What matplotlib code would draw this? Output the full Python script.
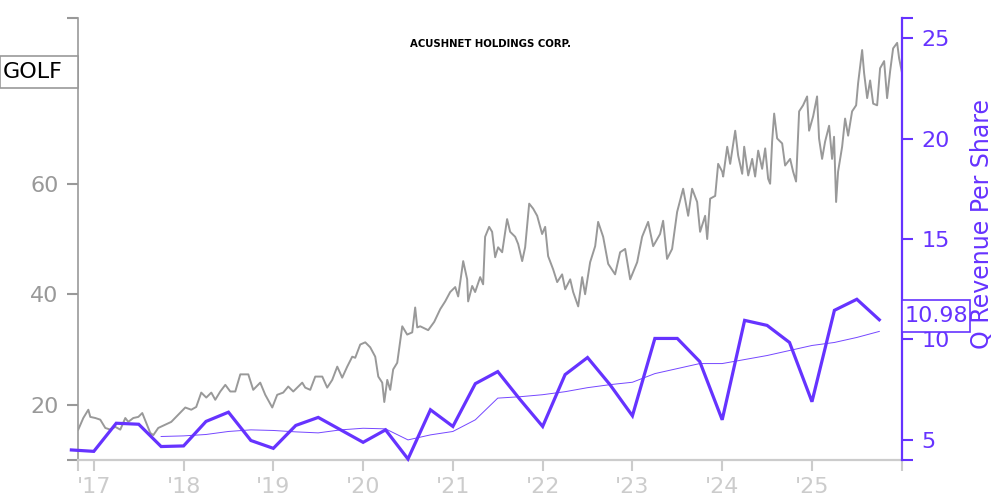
import matplotlib
matplotlib.use("Agg")
import matplotlib.pyplot as plt
from matplotlib.patches import Rectangle

# daily-ish close price of GOLF (decimal year, price)
price_t = [2016.827, 2016.883, 2016.939, 2016.961, 2017.017, 2017.072, 2017.128, 2017.184, 2017.239, 2017.295,
           2017.351, 2017.384, 2017.440, 2017.496, 2017.540, 2017.585, 2017.629, 2017.663, 2017.718, 2017.796,
           2017.863, 2017.941, 2018.019, 2018.086, 2018.141, 2018.197, 2018.253, 2018.309, 2018.353, 2018.409,
           2018.465, 2018.520, 2018.576, 2018.632, 2018.721, 2018.776, 2018.854, 2018.910, 2018.988, 2019.043,
           2019.110, 2019.166, 2019.222, 2019.322, 2019.355, 2019.411, 2019.467, 2019.545, 2019.600, 2019.656,
           2019.712, 2019.767, 2019.823, 2019.879, 2019.912, 2019.968, 2020.024, 2020.079, 2020.135, 2020.169,
           2020.213, 2020.236, 2020.269, 2020.302, 2020.335, 2020.380, 2020.436, 2020.491, 2020.547, 2020.580,
           2020.603, 2020.636, 2020.725, 2020.792, 2020.859, 2020.914, 2020.970, 2021.026, 2021.059, 2021.115,
           2021.159, 2021.170, 2021.215, 2021.248, 2021.304, 2021.337, 2021.359, 2021.404, 2021.437, 2021.471,
           2021.504, 2021.549, 2021.604, 2021.638, 2021.694, 2021.727, 2021.772, 2021.805, 2021.850, 2021.894,
           2021.939, 2021.994, 2022.028, 2022.061, 2022.117, 2022.162, 2022.217, 2022.251, 2022.307, 2022.340,
           2022.396, 2022.440, 2022.473, 2022.529, 2022.585, 2022.618, 2022.674, 2022.730, 2022.807, 2022.863,
           2022.919, 2022.975, 2023.053, 2023.108, 2023.175, 2023.231, 2023.308, 2023.342, 2023.386, 2023.442,
           2023.498, 2023.565, 2023.621, 2023.665, 2023.721, 2023.754, 2023.810, 2023.833, 2023.866, 2023.922,
           2023.955, 2024.000, 2024.011, 2024.056, 2024.089, 2024.145, 2024.178, 2024.223, 2024.245, 2024.290,
           2024.334, 2024.367, 2024.401, 2024.445, 2024.479, 2024.512, 2024.534, 2024.556, 2024.579, 2024.612,
           2024.668, 2024.701, 2024.757, 2024.790, 2024.823, 2024.857, 2024.901, 2024.946, 2024.968, 2025.013,
           2025.057, 2025.079, 2025.113, 2025.146, 2025.191, 2025.224, 2025.246, 2025.269, 2025.291, 2025.336,
           2025.369, 2025.403, 2025.447, 2025.492, 2025.514, 2025.559, 2025.581, 2025.615, 2025.648, 2025.682,
           2025.726, 2025.759, 2025.804, 2025.837, 2025.871, 2025.904, 2025.949, 2025.971, 2026.004]
price = [15.5, 17.6, 19.1, 17.8, 17.6, 17.3, 15.8, 15.5, 16.0, 15.5,
         17.6, 16.9, 17.6, 17.8, 18.5, 16.7, 14.9, 14.5, 15.8, 16.4,
         16.9, 18.2, 19.5, 19.1, 19.6, 22.2, 21.3, 22.2, 20.9, 22.4,
         23.6, 22.4, 22.4, 25.5, 25.5, 22.7, 24.0, 21.8, 19.5, 21.8,
         22.2, 23.3, 22.4, 24.0, 23.1, 22.7, 25.1, 25.1, 23.1, 24.5,
         26.9, 24.9, 26.9, 28.7, 28.5, 30.9, 31.3, 30.4, 28.7, 25.1,
         24.0, 20.5, 24.5, 22.7, 26.4, 27.6, 34.2, 32.7, 33.1, 37.6,
         34.0, 34.2, 33.5, 35.0, 37.3, 38.7, 40.4, 41.3, 39.6, 46.0,
         42.7, 38.7, 41.5, 40.4, 43.1, 41.8, 50.4, 52.2, 51.3, 46.7,
         48.5, 47.6, 53.6, 51.3, 50.4, 49.1, 46.0, 48.5, 56.4, 55.5,
         54.2, 50.9, 52.2, 46.9, 44.5, 42.2, 43.6, 40.9, 42.7, 40.4,
         37.8, 43.1, 40.0, 45.8, 48.7, 53.1, 50.4, 45.5, 43.6, 47.6,
         48.2, 42.7, 45.8, 50.4, 53.1, 48.7, 50.9, 53.3, 46.4, 48.2,
         54.9, 59.1, 54.2, 59.1, 56.7, 51.3, 54.2, 50.0, 57.3, 57.8,
         63.6, 62.2, 61.3, 66.7, 63.6, 69.6, 65.1, 61.8, 66.7, 61.5,
         64.5, 61.3, 66.0, 62.7, 66.4, 60.9, 60.0, 67.6, 72.7, 68.2,
         67.3, 63.3, 64.5, 62.2, 60.4, 73.1, 74.2, 75.8, 69.6, 72.2,
         75.8, 68.2, 64.5, 67.6, 70.5, 64.5, 68.5, 56.7, 62.2, 66.7,
         71.8, 68.7, 73.1, 74.2, 78.2, 84.2, 80.0, 75.5, 78.7, 74.5,
         74.2, 80.9, 82.2, 75.5, 80.4, 84.5, 85.5, 82.7, 80.0]

# quarterly revenue per share (quarter end, value)
q_t = [2016.75, 2017.0, 2017.25, 2017.5, 2017.75, 2018.0, 2018.25, 2018.5, 2018.75, 2019.0,
       2019.25, 2019.5, 2019.75, 2020.0, 2020.25, 2020.5, 2020.75, 2021.0, 2021.25, 2021.5,
       2021.75, 2022.0, 2022.25, 2022.5, 2022.75, 2023.0, 2023.25, 2023.5, 2023.75, 2024.0,
       2024.25, 2024.5, 2024.75, 2025.0, 2025.25, 2025.5, 2025.75]
q_rev = [4.50, 4.43, 5.83, 5.78, 4.67, 4.70, 5.92, 6.38, 4.97, 4.58,
         5.72, 6.12, 5.50, 4.88, 5.50, 4.05, 6.50, 5.67, 7.80, 8.40,
         7.00, 5.67, 8.25, 9.10, 7.75, 6.20, 10.05, 10.05, 8.90, 6.00,
         10.95, 10.70, 9.85, 6.90, 11.45, 12.00, 10.98]
# trailing 4-quarter average
avg_t = q_t[4:]
avg_rev = [5.17, 5.20, 5.27, 5.42, 5.50, 5.47, 5.40, 5.35, 5.50, 5.58,
           5.55, 5.00, 5.25, 5.42, 6.00, 7.08, 7.15, 7.25, 7.40, 7.60,
           7.75, 7.87, 8.30, 8.55, 8.80, 8.80, 9.00, 9.20, 9.45, 9.70,
           9.85, 10.10, 10.40]

year_ticks = [2017, 2018, 2019, 2020, 2021, 2022, 2023, 2024, 2025]
year_labels = ["'17", "'18", "'19", "'20", "'21", "'22", "'23", "'24", "'25"]

purple = '#6633ff'
gray = '#999999'
light = '#cccccc'
xmin, xmax = 2016.824, 2026.003

fig = plt.figure(figsize=(10, 5), dpi=100)
ax = fig.add_axes([0.078, 0.08, 0.824, 0.884])
ax2 = ax.twinx()

ax.plot(price_t, price, color=gray, lw=1.4)
ax.set_xlim(xmin, xmax)
ax.set_ylim(10, 90)

ax2.plot(avg_t, avg_rev, color=purple, lw=0.7, alpha=0.9)
ax2.plot(q_t, q_rev, color=purple, lw=2.3, clip_on=False, solid_joinstyle='miter')
ax2.set_ylim(4, 26)

# spines
for s in ['top', 'right']:
    ax.spines[s].set_visible(False)
ax.spines['left'].set_color(gray)
ax.spines['left'].set_linewidth(1.2)
ax.spines['bottom'].set_color(light)
ax.spines['bottom'].set_linewidth(1.6)
for s in ['top', 'left', 'bottom']:
    ax2.spines[s].set_visible(False)
ax2.spines['right'].set_color(purple)
ax2.spines['right'].set_linewidth(1.6)

ax.set_xticks([xmin] + year_ticks + [xmax])
ax.set_xticklabels([''] + year_labels + [''])
ax.tick_params(axis='x', length=8, width=1.5, color=light, labelcolor=light, labelsize=16, pad=4)

ax.set_yticks([10, 20, 40, 60, 90])
ax.set_yticklabels(['', '20', '40', '60', ''])
ax.tick_params(axis='y', length=8, width=1.5, color=gray, labelcolor=gray, labelsize=16, pad=6)

ax2.set_yticks([4, 5, 10, 15, 20, 25, 26])
ax2.set_yticklabels(['', '5', '10', '15', '20', '25', ''])
ax2.tick_params(axis='y', length=8, width=1.5, color=purple, labelcolor=purple, labelsize=16, pad=6)

fig.text(0.982, 0.552, 'Q Revenue Per Share', rotation=90, ha='center', va='center',
         color=purple, fontsize=17)

# ticker box on the left
fig.patches.append(Rectangle((0.0, 0.824), 0.078, 0.064, transform=fig.transFigure,
                             facecolor='white', edgecolor=gray, lw=1.2, zorder=5))
fig.text(0.003, 0.856, 'GOLF', ha='left', va='center', fontsize=16, color='black', zorder=6)

# last value box on the right
fig.patches.append(Rectangle((0.902, 0.336), 0.068, 0.064, transform=fig.transFigure,
                             facecolor='white', edgecolor=purple, lw=1.2, zorder=5))
fig.text(0.905, 0.368, '10.98', ha='left', va='center', fontsize=16, color=purple, zorder=6)

fig.text(0.49, 0.912, 'ACUSHNET HOLDINGS CORP.', ha='center', va='center', fontsize=7.3,
         fontweight='bold', color='black')

fig.savefig('out.png', dpi=100)
